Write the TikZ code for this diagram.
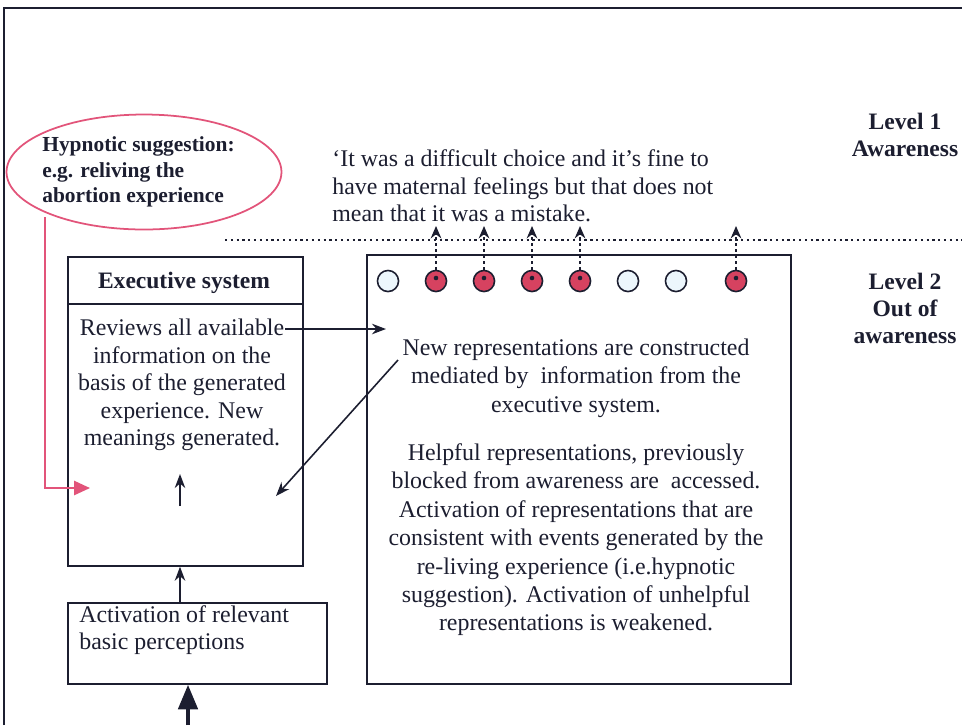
\documentclass[tikz,border=0pt]{standalone}
\usepackage{fontspec}
\setmainfont{Liberation Serif}
\usetikzlibrary{arrows.meta,shapes.geometric}
\definecolor{ink}{RGB}{28,30,48}
\definecolor{hypno}{RGB}{226,84,122}
\definecolor{active}{RGB}{214,66,96}
\definecolor{idle}{RGB}{236,246,252}
\tikzset{
  txt/.style={font=\fontsize{13.6}{15.6}\selectfont, text=ink, inner sep=0pt},
  hd/.style={txt, font=\fontsize{13.4}{15.4}\selectfont\bfseries},
  frame/.style={draw=ink, line width=1pt},
  link/.style={draw=ink, line width=0.9pt, -{Stealth[length=8pt,width=6pt]}},
  up/.style={draw=ink, line width=1.4pt, dotted, -{Stealth[length=7pt,width=6pt]}},
  unit/.style={circle, draw=ink, line width=0.9pt, minimum size=12pt, inner sep=0pt},
}
\begin{document}
\begin{tikzpicture}[x=0.02cm,y=-0.02cm,>=Stealth]
\useasboundingbox (0,0) rectangle (962,725);
% outer frame (only top and left show)
\draw[ink, line width=0.8pt] (4,725) -- (4,8) -- (962,8);

% hypnotic suggestion
\node[ellipse, draw=hypno, line width=1pt, minimum width=5.5cm, minimum height=2.3cm] (hyp) at (144,172) {};
\node[txt, font=\fontsize{12.2}{14.4}\selectfont\bfseries, align=left, anchor=west] (hyptxt) at (42,172)
  {Hypnotic suggestion:\\ e.g. reliving the\\ abortion experience};

% awareness levels
\node[hd, align=center] (lev1) at (905,135) {Level 1\\ Awareness};
\node[hd, align=center] (lev2) at (905,308) {Level 2\\ Out of\\ awareness};
\coordinate (cutL) at (225,240);
\coordinate (cutR) at (962,240);
\draw[ink, line width=1.3pt, dotted] (cutL) -- (cutR);

% conscious thought
\node[txt, align=left, anchor=west] (quote) at (332,186)
  {`It was a difficult choice and it's fine to\\ have maternal feelings but that does not\\ mean that it was a mistake.};

% executive system
\node[frame, minimum width=4.7cm, minimum height=6.18cm, anchor=north west] (exec) at (67,256) {};
\coordinate (divL) at (67,304);
\coordinate (divR) at (302,304);
\draw[frame] (divL) -- (divR);
\node[hd] (exectitle) at (184,283) {Executive system};
\node[txt, align=center, anchor=north] (review) at (182,319)
  {Reviews all available\\ information on the\\ basis of the generated\\ experience. New\\ meanings generated.};
\coordinate (meetlow) at (180,506);
\coordinate (meettop) at (180,474);
\draw[link] (meetlow) -- (meettop);

% representations
\node[frame, minimum width=8.48cm, minimum height=8.58cm, anchor=north west] (reps) at (366,254) {};
\node[txt, font=\fontsize{13.6}{16.2}\selectfont, align=center] (newrep) at (576,378)
  {New representations are constructed\\ mediated by\ \ information from the\\ executive system.};
\node[txt, font=\fontsize{13.6}{16.2}\selectfont, align=center, anchor=north] (helpful) at (576,443)
  {Helpful representations, previously\\ blocked from awareness are\ \ accessed.\\
   Activation of representations that are\\ consistent with events generated by the\\
   re-living experience (i.e.hypnotic\\ suggestion). Activation of unhelpful\\
   representations is weakened.};

% units: 1 = active, 0 = idle
\foreach \x/\on [count=\i] in {388/0,436/1,484/1,532/1,580/1,628/0,676/0,736/1}{
  \ifnum\on=1
    \node[unit, fill=active] (u\i) at (\x,281) {};
    \fill[ink] (\x,278) circle (1.3pt);
    \coordinate (t\i) at (\x,226);
    \draw[up] (u\i.north) -- (t\i);
  \else
    \node[unit, fill=idle] (u\i) at (\x,281) {};
  \fi
}

% connectors between boxes
\coordinate (sendA) at (285,329);
\coordinate (sendB) at (386,329);
\draw[link] (sendA) -- (sendB);
\coordinate (backA) at (398,360);
\coordinate (backB) at (276,496);
\draw[link] (backA) -- (backB);

% basic perceptions
\node[frame, minimum width=5.18cm, minimum height=1.62cm, anchor=north west] (basic) at (67,602) {};
\node[txt, align=left, anchor=north west] (basictxt) at (79,605) {Activation of relevant\\ basic perceptions};
\draw[link] (basic.north -| meetlow) -- (exec.south -| meetlow);
\coordinate (input) at (188,725);
\draw[draw=ink, line width=2.2pt, -{Triangle[length=14pt,width=11pt]}] (input) -- (input |- basic.south);

% hypnosis route
\coordinate (hypdrop) at (45,217);
\coordinate (hypturn) at (45,488);
\coordinate (hypend) at (90,488);
\draw[hypno, line width=1.2pt, -{Triangle[length=9pt,width=8pt]}] (hypdrop) -- (hypturn) -- (hypend);
\end{tikzpicture}
\end{document}
